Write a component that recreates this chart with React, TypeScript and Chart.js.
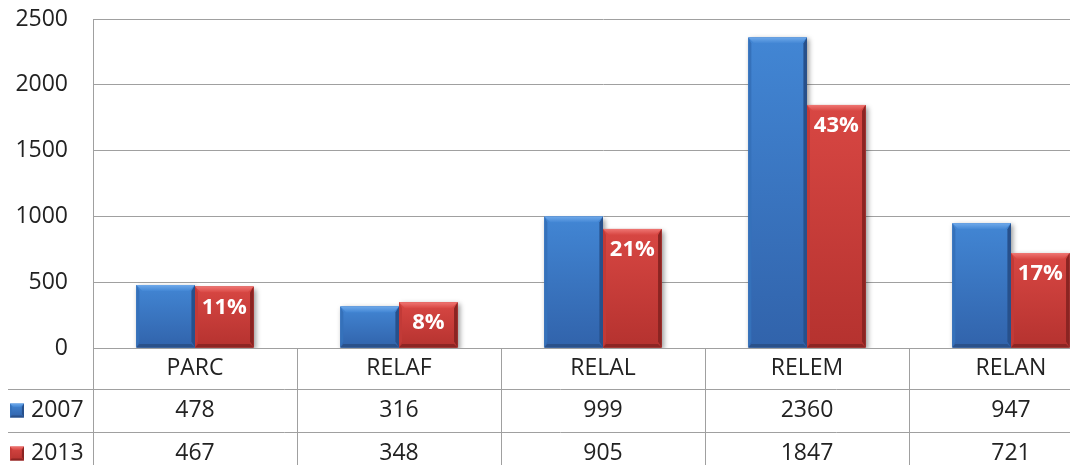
import React, { useEffect, useRef } from 'react';
import { Chart, registerables } from 'chart.js';

Chart.register(...registerables);

const categories = ['PARC', 'RELAF', 'RELAL', 'RELEM', 'RELAN'];
const seriesNames = ['2007', '2013'];
const series2007 = [478, 316, 999, 2360, 947];
const series2013 = [467, 348, 905, 1847, 721];
const shareLabels2013 = ['11%', '8%', '21%', '43%', '17%'];
const yMin = 0;
const yMax = 2500;
const yStep = 500;

const FONT = '"Open Sans", "Noto Sans", "DejaVu Sans", sans-serif';
const TEXT = '#222222';
const LINE = '#a0a0a0';

type Pal = {
  flat: string; faceTop: string; faceBottom: string; bevelTop: string;
  left: string; right: string; bottom: string;
};

const palettes: Pal[] = [
  { flat: '#3a76c2', faceTop: '#4286d4', faceBottom: '#3163ab', bevelTop: '#6fa9ea', left: '#3571ba', right: '#27508b', bottom: '#2a518a' },
  { flat: '#c83c39', faceTop: '#d84743', faceBottom: '#b5322f', bevelTop: '#ef7673', left: '#c23a37', right: '#8a2422', bottom: '#8c2523' },
];

function drawBevel(ctx: CanvasRenderingContext2D, l: number, t: number, r: number, b: number, p: Pal) {
  const w = r - l, h = b - t;
  if (w <= 0 || h <= 0) return;
  const s = Math.min(6, w / 4, h / 4);
  const g = ctx.createLinearGradient(0, t, 0, b);
  g.addColorStop(0, p.faceTop);
  g.addColorStop(1, p.faceBottom);
  ctx.fillStyle = g;
  ctx.fillRect(l, t, w, h);
  const gt = ctx.createLinearGradient(0, t, 0, t + s);
  gt.addColorStop(0, p.bevelTop);
  gt.addColorStop(1, p.faceTop);
  ctx.fillStyle = gt;
  ctx.beginPath();
  ctx.moveTo(l, t); ctx.lineTo(r, t); ctx.lineTo(r - s, t + s); ctx.lineTo(l + s, t + s); ctx.closePath();
  ctx.fill();
  ctx.fillStyle = p.left;
  ctx.beginPath();
  ctx.moveTo(l, t); ctx.lineTo(l + s * 0.5, t + s); ctx.lineTo(l + s * 0.5, b - s); ctx.lineTo(l, b); ctx.closePath();
  ctx.fill();
  ctx.fillStyle = p.right;
  ctx.beginPath();
  ctx.moveTo(r, t); ctx.lineTo(r - s * 0.6, t + s); ctx.lineTo(r - s * 0.6, b - s); ctx.lineTo(r, b); ctx.closePath();
  ctx.fill();
  ctx.fillStyle = p.bottom;
  ctx.beginPath();
  ctx.moveTo(l, b); ctx.lineTo(r, b); ctx.lineTo(r - s * 0.6, b - s * 0.6); ctx.lineTo(l + s * 0.5, b - s * 0.6); ctx.closePath();
  ctx.fill();
}

const barStylePlugin = {
  id: 'barStyle',
  beforeDatasetDraw(chart: any) {
    const ctx = chart.ctx;
    ctx.save();
    ctx.shadowColor = 'rgba(0,0,0,0.4)';
    ctx.shadowBlur = 5;
    ctx.shadowOffsetX = 2;
    ctx.shadowOffsetY = 2;
  },
  afterDatasetDraw(chart: any) {
    chart.ctx.restore();
  },
  afterDatasetsDraw(chart: any) {
    const ctx: CanvasRenderingContext2D = chart.ctx;
    ctx.save();
    chart.data.datasets.forEach((_ds: any, di: number) => {
      const meta = chart.getDatasetMeta(di);
      meta.data.forEach((el: any) => {
        const { x, y, base, width } = el.getProps(['x', 'y', 'base', 'width'], true);
        drawBevel(ctx, x - width / 2, Math.min(y, base), x + width / 2, Math.max(y, base), palettes[di]);
      });
    });
    const meta2 = chart.getDatasetMeta(1);
    ctx.fillStyle = '#ffffff';
    ctx.font = `bold 22px ${FONT}`;
    ctx.textAlign = 'center';
    ctx.textBaseline = 'middle';
    meta2.data.forEach((el: any, i: number) => {
      const { x, y } = el.getProps(['x', 'y'], true);
      ctx.fillText(shareLabels2013[i], x, y + 21);
    });
    ctx.restore();
  },
};

const tablePlugin = {
  id: 'dataTable',
  afterDraw(chart: any) {
    const ctx: CanvasRenderingContext2D = chart.ctx;
    const area = chart.chartArea;
    const xs = chart.scales.x;
    const H = chart.height;
    const n = categories.length;
    const colW = (area.right - area.left) / n;
    const rowH = [41, 43, 43];
    const rowTop = [area.bottom, area.bottom + rowH[0], area.bottom + rowH[0] + rowH[1]];
    ctx.save();
    ctx.strokeStyle = LINE;
    ctx.lineWidth = 1;
    ctx.beginPath();
    for (let i = 0; i <= n; i++) {
      const x = Math.round(area.left + i * colW) + 0.5;
      ctx.moveTo(x, area.bottom);
      ctx.lineTo(x, H);
    }
    for (let k = 1; k < 3; k++) {
      const y = Math.round(rowTop[k]) + 0.5;
      ctx.moveTo(8, y);
      ctx.lineTo(area.right, y);
    }
    ctx.stroke();

    ctx.fillStyle = TEXT;
    ctx.textAlign = 'center';
    ctx.textBaseline = 'middle';
    ctx.font = `23px ${FONT}`;
    categories.forEach((c, i) => {
      ctx.fillText(c, xs.getPixelForValue(i), rowTop[0] + rowH[0] / 2);
    });
    const rows = [series2007, series2013];
    rows.forEach((vals, r) => {
      const cy = rowTop[r + 1] + rowH[r + 1] / 2;
      vals.forEach((v, i) => {
        ctx.fillText(String(v), xs.getPixelForValue(i), cy);
      });
      drawBevel(ctx, 10, cy - 7, 24, cy + 7, palettes[r]);
      ctx.textAlign = 'left';
      ctx.fillStyle = TEXT;
      ctx.fillText(seriesNames[r], 31, cy);
      ctx.textAlign = 'center';
    });
    ctx.restore();
  },
};

export default function App() {
  const ref = useRef<HTMLCanvasElement | null>(null);
  useEffect(() => {
    if (!ref.current) return;
    const chart = new Chart(ref.current, {
      type: 'bar',
      data: {
        labels: categories,
        datasets: [
          { label: seriesNames[0], data: series2007, backgroundColor: palettes[0].flat, borderWidth: 0, categoryPercentage: 0.575, barPercentage: 1 },
          { label: seriesNames[1], data: series2013, backgroundColor: palettes[1].flat, borderWidth: 0, categoryPercentage: 0.575, barPercentage: 1 },
        ],
      },
      options: {
        responsive: false,
        animation: false,
        devicePixelRatio: 1,
        layout: { padding: { left: 0, top: 19, right: 7, bottom: 132 } },
        plugins: { legend: { display: false }, tooltip: { enabled: false } },
        scales: {
          x: { display: false },
          y: {
            min: yMin,
            max: yMax,
            afterFit: (s: any) => { s.width = 93; s.paddingTop = 0; s.paddingBottom = 0; },
            ticks: {
              stepSize: yStep, padding: 25, color: TEXT, font: { family: FONT, size: 23 },
              callback: (v: any) => String(v),
            },
            grid: { color: LINE, lineWidth: 1, drawTicks: false },
            border: { color: LINE, width: 1 },
          },
        },
      },
      plugins: [barStylePlugin, tablePlugin],
    });
    return () => chart.destroy();
  }, []);
  return (
    <div style={{ position: 'fixed', left: 0, top: 0, width: 1070, height: 465, overflow: 'hidden', background: '#ffffff' }}>
      <canvas ref={ref} width={1120} height={480} style={{ display: 'block' }} />
    </div>
  );
}
